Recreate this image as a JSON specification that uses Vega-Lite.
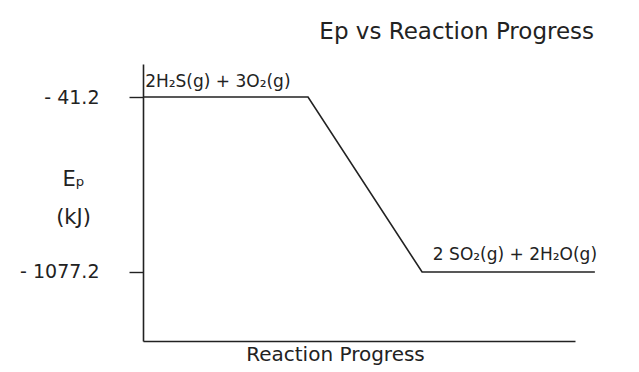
{
  "$schema": "https://vega.github.io/schema/vega-lite/v6.json",
  "autosize": {"type": "none"},
  "padding": {"left": 143, "top": 64, "right": 64, "bottom": 31},
  "width": 432,
  "height": 277,
  "background": "white",
  "config": {
    "view": {"stroke": null},
    "font": "DejaVu Sans"
  },
  "title": {
    "text": "Ep vs Reaction Progress",
    "anchor": "end",
    "dx": -4,
    "offset": 20,
    "fontSize": 23,
    "fontWeight": "normal",
    "color": "#222"
  },
  "encoding": {
    "x": {
      "field": "x",
      "type": "quantitative",
      "scale": {"domain": [0, 100], "nice": false, "zero": false},
      "axis": {
        "title": "Reaction Progress",
        "titleFontSize": 20,
        "titleFontWeight": "normal",
        "titleColor": "#222",
        "titleX": 192,
        "titlePadding": 3,
        "labels": false,
        "ticks": false,
        "grid": false,
        "domainColor": "#222",
        "domainWidth": 1.6
      }
    },
    "y": {
      "field": "y",
      "type": "quantitative",
      "scale": {"domain": [-1485.7, 154.2], "nice": false, "zero": false},
      "axis": {
        "values": [-41.2, -1077.2],
        "labelExpr": "'- ' + format(abs(datum.value), '.1f')",
        "labelFontSize": 19,
        "labelColor": "#222",
        "labelPadding": 30,
        "tickSize": 14,
        "tickColor": "#222",
        "tickWidth": 1.4,
        "grid": false,
        "domainColor": "#222",
        "domainWidth": 1.6,
        "title": ["Eₚ", "(kJ)"],
        "titleAngle": 0,
        "titleFontSize": 21,
        "titleFontWeight": "normal",
        "titleColor": "#222",
        "titleAlign": "center",
        "titleBaseline": "top",
        "titleX": -70,
        "titleY": 104,
        "titleLineHeight": 38
      }
    }
  },
  "layer": [
    {
      "data": {
        "values": [
          {"x": 0, "y": -41.2},
          {"x": 38.2, "y": -41.2},
          {"x": 64.6, "y": -1077.2},
          {"x": 104.6, "y": -1077.2}
        ]
      },
      "mark": {"type": "line", "color": "#222", "strokeWidth": 1.6}
    },
    {
      "data": {
        "values": [
          {"x": 0.5, "y": 50.0, "label": "2H₂S(g) + 3O₂(g)"},
          {"x": 67.1, "y": -976.6, "label": "2 SO₂(g) + 2H₂O(g)"}
        ]
      },
      "mark": {"type": "text", "align": "left", "baseline": "middle", "fontSize": 17, "color": "#222"},
      "encoding": {"text": {"field": "label", "type": "nominal"}}
    }
  ]
}
